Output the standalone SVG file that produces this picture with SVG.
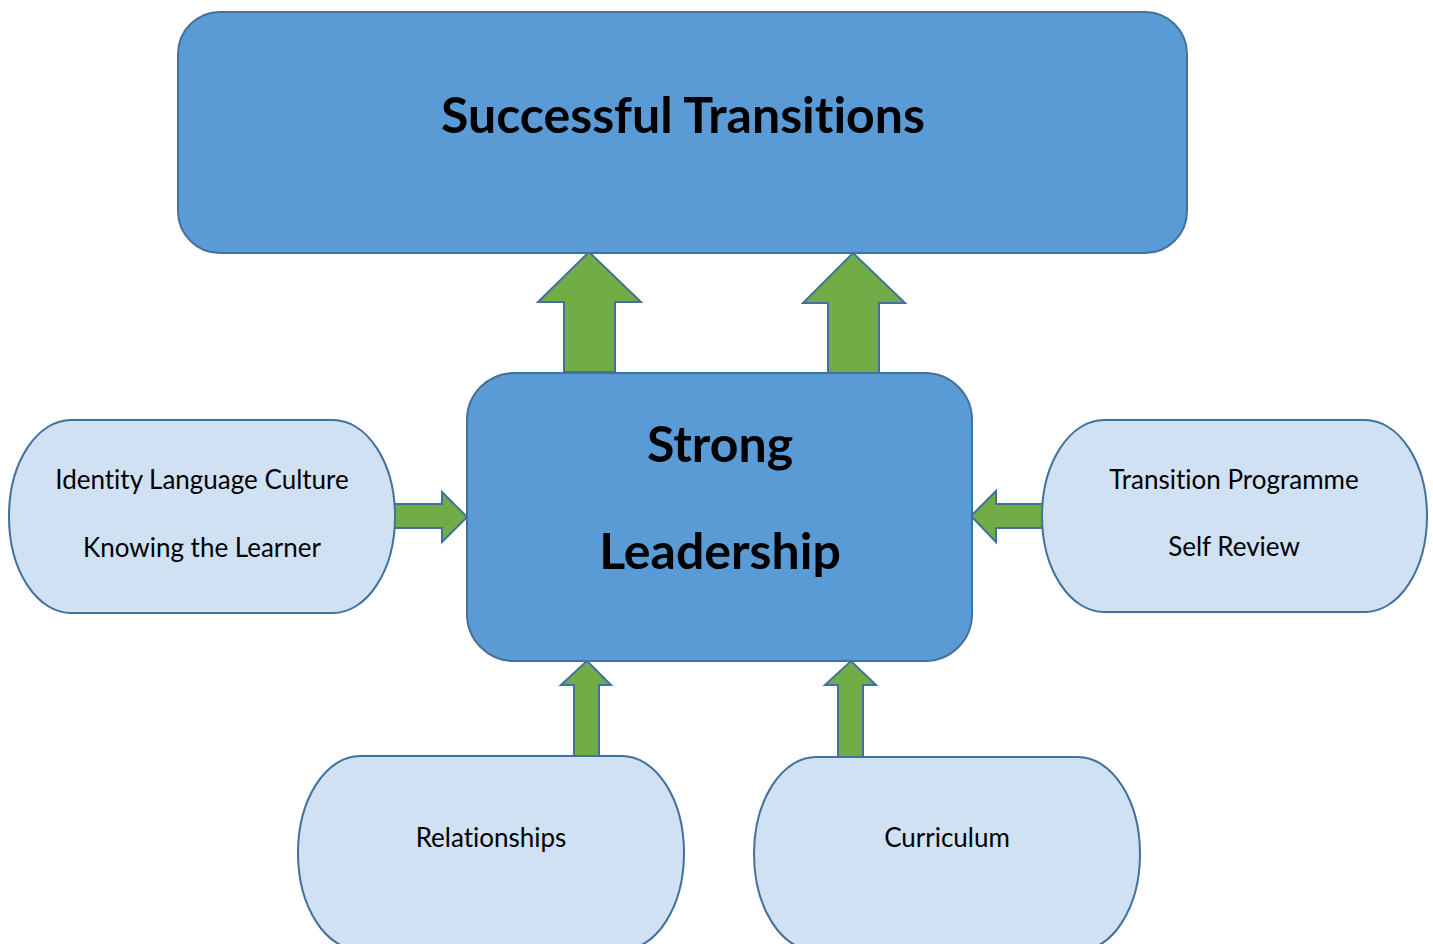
<svg xmlns="http://www.w3.org/2000/svg" width="1433" height="944" viewBox="0 0 1433 944">
  <style>
    .main { fill: #5B9BD5; stroke: #41719C; stroke-width: 2; }
    .pill { fill: #CFE1F2; stroke: #41719C; stroke-width: 2; }
    .arrow { fill: #70AD47; stroke: #41719C; stroke-width: 2; stroke-linejoin: miter; }
    text { font-variant-ligatures: none; }
    .title { font-family: Lato, "Liberation Sans", sans-serif; font-weight: bold; font-size: 50px; fill: #000; text-anchor: middle; }
    .label { font-family: Lato, "Liberation Sans", sans-serif; font-size: 26px; fill: #000; text-anchor: middle; }
  </style>
  <rect width="1433" height="944" fill="#FFFFFF"/>

  <g id="connectors">
    <!-- block arrows from Strong Leadership up to Successful Transitions -->
    <polygon class="arrow" points="564,372 564,302 538,302 589,252 641,302 615,302 615,372"/>
    <polygon class="arrow" points="828,373 828,303 803,303 853,253 905,303 879,303 879,373"/>
    <!-- side arrows into Strong Leadership -->
    <polygon class="arrow" points="393,504 442,504 442,492 467,517 442,542 442,528 393,528"/>
    <polygon class="arrow" points="1043,504 996,504 996,491 971,516 996,542 996,528 1043,528"/>
    <!-- bottom arrows into Strong Leadership -->
    <polygon class="arrow" points="574,757 574,685 561,685 587,661 611,685 599,685 599,757"/>
    <polygon class="arrow" points="838,757 838,685 825,685 851,661 876,685 863,685 863,757"/>
  </g>

  <g id="successful-transitions">
    <rect class="main" x="178" y="12" width="1009" height="241" rx="42" ry="42"/>
    <text class="title" x="683" y="133">Successful Transitions</text>
  </g>

  <g id="strong-leadership">
    <rect class="main" x="467" y="373" width="505" height="288" rx="47" ry="47"/>
    <text class="title" x="720" y="462">Strong</text>
    <text class="title" x="720" y="569">Leadership</text>
  </g>

  <g id="identity">
    <rect class="pill" x="9" y="420" width="386" height="193" rx="62" ry="96"/>
    <text class="label" x="202" y="489">Identity Language Culture</text>
    <text class="label" x="202" y="557">Knowing the Learner</text>
  </g>

  <g id="transition-programme">
    <rect class="pill" x="1042" y="420" width="385" height="192" rx="62" ry="96"/>
    <text class="label" x="1234" y="489">Transition Programme</text>
    <text class="label" x="1234" y="556">Self Review</text>
  </g>

  <g id="relationships">
    <rect class="pill" x="298" y="756" width="386" height="194" rx="62" ry="97"/>
    <text class="label" x="491" y="847">Relationships</text>
  </g>

  <g id="curriculum">
    <rect class="pill" x="754" y="757" width="386" height="194" rx="62" ry="97"/>
    <text class="label" x="947" y="847">Curriculum</text>
  </g>
</svg>
